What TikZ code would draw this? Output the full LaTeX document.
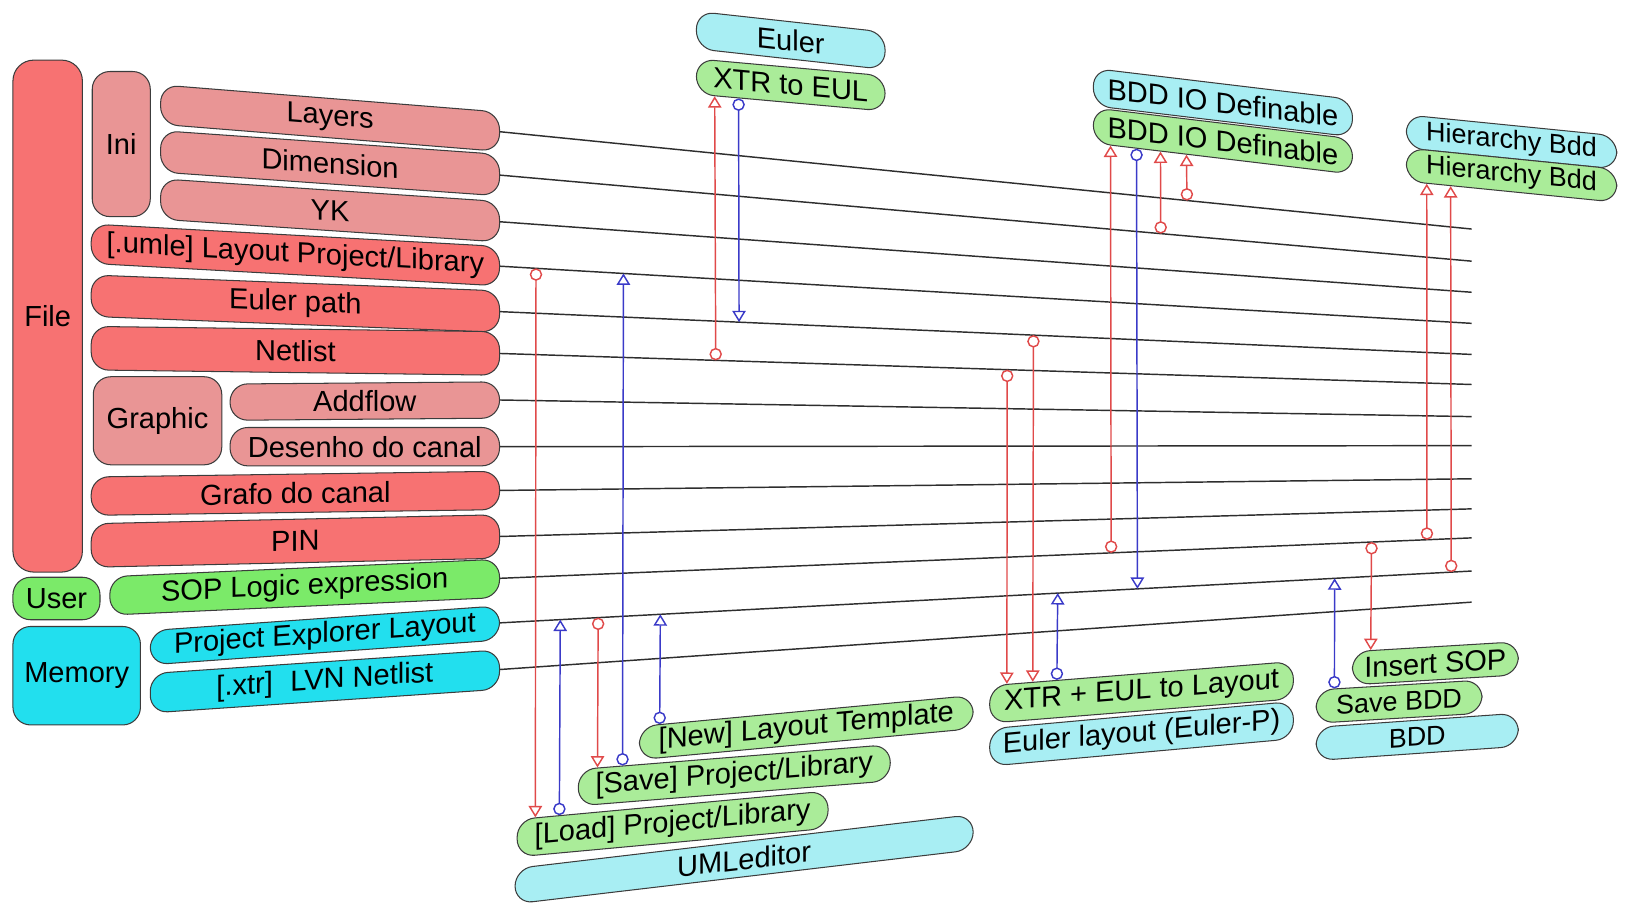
\documentclass[tikz,border=0pt]{standalone}
\usepackage{fontspec}
\setmainfont{Liberation Sans}
\usepackage{tikz}
\usetikzlibrary{arrows.meta,calc}
\definecolor{cred}{HTML}{F77272}
\definecolor{cpink}{HTML}{E99595}
\definecolor{cgreen}{HTML}{7BEA69}
\definecolor{cgreenlt}{HTML}{AAEC99}
\definecolor{ccyan}{HTML}{22DFEE}
\definecolor{ccyanlt}{HTML}{A8EEF3}
\definecolor{cedge}{HTML}{3C3C3C}
\definecolor{cwire}{HTML}{2E2E2E}
\definecolor{cflowr}{HTML}{E04A4A}
\definecolor{cflowb}{HTML}{3A3AC8}
\tikzset{
  blk/.style={draw=cedge,line width=1pt,rounded corners=17pt,inner sep=0pt,transform shape},
  wire/.style={cwire,line width=1.4pt},
  rflow/.style={cflowr,line width=1.4pt,{Circle[open,length=12pt]}-{Triangle[open,length=11pt,width=13pt]}},
  bflow/.style={cflowb,line width=1.4pt,{Circle[open,length=12pt]}-{Triangle[open,length=11pt,width=13pt]}}
}

\begin{document}
\begin{tikzpicture}[x=1pt,y=-1pt,font=\fontsize{28}{30}\selectfont]
\useasboundingbox (0,0) rectangle (1568,876);

% ===== left column =====
\node[blk,fill=cred,minimum width=67pt,minimum height=494pt,rounded corners=20pt] (file) at (46,305) {File};
\node[blk,fill=cpink,minimum width=56pt,minimum height=140pt] (ini) at (117,139) {Ini};
\node[blk,fill=cpink,minimum width=124pt,minimum height=85pt] (graphic) at (152,406) {Graphic};
\node[blk,fill=cgreen,minimum width=84pt,minimum height=41pt] (user) at (54.5,577.5) {User};
\node[blk,fill=ccyan,minimum width=123pt,minimum height=95pt] (memory) at (74,652) {Memory};

\node[blk,fill=cpink,minimum width=327pt,minimum height=38pt,yslant=-0.080] (layers) at (318.5,114) {Layers};
\node[blk,fill=cpink,minimum width=327pt,minimum height=40pt,yslant=-0.070] (dimension) at (318.5,157.5) {Dimension};
\node[blk,fill=cpink,minimum width=327pt,minimum height=39pt,yslant=-0.067] (yk) at (318.5,203) {YK};
\node[blk,fill=cred,minimum width=394pt,minimum height=38pt,yslant=-0.055] (umle) at (285,246) {[.umle] Layout Project/Library};
\node[blk,fill=cred,minimum width=394pt,minimum height=40pt,yslant=-0.039] (eulerp) at (285,293) {Euler path};
\node[blk,fill=cred,minimum width=394pt,minimum height=42pt,yslant=-0.013] (netlist) at (285,338.5) {Netlist};
\node[blk,fill=cpink,minimum width=260pt,minimum height=35pt,yslant=0.008] (addflow) at (352,387) {Addflow};
\node[blk,fill=cpink,minimum width=260pt,minimum height=37pt] (desenho) at (352,431) {Desenho do canal};
\node[blk,fill=cred,minimum width=394pt,minimum height=37pt,yslant=0.014] (grafo) at (285,476) {Grafo do canal};
\node[blk,fill=cred,minimum width=394pt,minimum height=42pt,yslant=0.022] (pin) at (285,522) {PIN};
\node[blk,fill=cgreen,minimum width=376pt,minimum height=37pt,yslant=0.045] (sop) at (294,566.5) {SOP Logic expression};
\node[blk,fill=ccyan,minimum width=337pt,minimum height=33pt,yslant=0.071] (projexp) at (313.5,613) {Project Explorer Layout};
\node[blk,fill=ccyan,minimum width=337pt,minimum height=38pt,yslant=0.068] (lvn) at (313.5,657.5) {[.xtr]\hspace{0.6em}LVN Netlist};

% ===== wires to the far side =====
\foreach \n/\y in {layers/221,dimension/252,yk/282,umle/312,eulerp/342,netlist/371,addflow/402,
  desenho/430,grafo/462,pin/491,sop/519,projexp/551,lvn/581}{
  \coordinate (\n-r) at (1420,\y);
  \draw[wire] (\n.east) -- (\n-r);
}

% ===== top tools =====
\node[blk,fill=ccyanlt,minimum width=182pt,minimum height=36pt,yslant=-0.11] (euler) at (763,39) {Euler};
\node[blk,fill=cgreenlt,minimum width=182pt,minimum height=34pt,yslant=-0.09] (xtreul) at (763,82) {XTR to EUL};
\node[blk,fill=ccyanlt,minimum width=250pt,minimum height=36pt,yslant=-0.12] (bddioc) at (1180,99) {BDD IO Definable};
\node[blk,fill=cgreenlt,minimum width=250pt,minimum height=34pt,yslant=-0.12] (bddiog) at (1180,136) {BDD IO Definable};
\node[blk,fill=ccyanlt,minimum width=203pt,minimum height=32pt,yslant=-0.10,font=\fontsize{26}{28}\selectfont] (hierc) at (1458.5,137) {Hierarchy Bdd};
\node[blk,fill=cgreenlt,minimum width=203pt,minimum height=32pt,yslant=-0.10,font=\fontsize{26}{28}\selectfont] (hierg) at (1458.5,169) {Hierarchy Bdd};

% ===== bottom tools =====
\node[blk,fill=ccyanlt,minimum width=442pt,minimum height=34pt,yslant=0.118] (umled) at (718,829) {UMLeditor};
\node[blk,fill=cgreenlt,minimum width=300pt,minimum height=36pt,yslant=0.092] (loadp) at (649,795) {[Load] Project/Library};
\node[blk,fill=cgreenlt,minimum width=301pt,minimum height=35pt,yslant=0.08] (savep) at (708.5,748) {[Save] Project/Library};
\node[blk,fill=cgreenlt,minimum width=322pt,minimum height=32pt,yslant=0.093] (newt) at (778,702) {[New] Layout Template};
\node[blk,fill=ccyanlt,minimum width=293pt,minimum height=36pt,yslant=0.09] (eullay) at (1101.5,708) {Euler layout (Euler-P)};
\node[blk,fill=cgreenlt,minimum width=293pt,minimum height=36pt,yslant=0.08] (xtrlay) at (1101.5,668) {XTR + EUL to Layout};
\node[blk,fill=ccyanlt,minimum width=195pt,minimum height=32pt,yslant=0.07,font=\fontsize{26}{28}\selectfont] (bdd) at (1367.5,711) {BDD};
\node[blk,fill=cgreenlt,minimum width=160pt,minimum height=32pt,yslant=0.06,font=\fontsize{26}{28}\selectfont] (savebdd) at (1350,677) {Save BDD};
\node[blk,fill=cgreenlt,minimum width=160pt,minimum height=32pt,yslant=0.06] (insop) at (1385,640) {Insert SOP};

% ===== flows =====
\draw[rflow] ($(umle.east)!.037!(umle-r)$) -- ($(loadp.north west)!.06!(loadp.north east)$);
\draw[bflow] ($(savep.north west)!.143!(savep.north east)$) -- ($(umle.east)!.127!(umle-r)$);
\draw[rflow] ($(netlist.east)!.222!(netlist-r)$) -- ($(xtreul.south west)!.099!(xtreul.south east)$);
\draw[bflow] ($(xtreul.south west)!.225!(xtreul.south east)$) -- ($(eulerp.east)!.246!(eulerp-r)$);
\draw[bflow] ($(loadp.north west)!.137!(loadp.north east)$) -- ($(projexp.east)!.062!(projexp-r)$);
\draw[rflow] ($(projexp.east)!.101!(projexp-r)$) -- ($(savep.north west)!.063!(savep.north east)$);
\draw[bflow] ($(newt.north west)!.062!(newt.north east)$) -- ($(projexp.east)!.165!(projexp-r)$);
\draw[rflow] ($(netlist.east)!.522!(netlist-r)$) -- ($(xtrlay.north west)!.058!(xtrlay.north east)$);
\draw[rflow] ($(eulerp.east)!.549!(eulerp-r)$) -- ($(xtrlay.north west)!.143!(xtrlay.north east)$);
\draw[bflow] ($(xtrlay.north west)!.222!(xtrlay.north east)$) -- ($(projexp.east)!.574!(projexp-r)$);
\draw[rflow] ($(sop.east)!.629!(sop-r)$) -- ($(bddiog.south west)!.068!(bddiog.south east)$);
\draw[bflow] ($(bddiog.south west)!.168!(bddiog.south east)$) -- ($(projexp.east)!.656!(projexp-r)$);
\draw[rflow] ($(dimension.east)!.680!(dimension-r)$) -- ($(bddiog.south west)!.26!(bddiog.south east)$);
\draw[rflow] ($(layers.east)!.707!(layers-r)$) -- ($(bddiog.south west)!.36!(bddiog.south east)$);
\draw[rflow] ($(sop.east)!.954!(sop-r)$) -- ($(hierg.south west)!.099!(hierg.south east)$);
\draw[rflow] ($(projexp.east)!.979!(projexp-r)$) -- ($(hierg.south west)!.212!(hierg.south east)$);
\draw[rflow] ($(sop.east)!.897!(sop-r)$) -- ($(insop.north west)!.1125!(insop.north east)$);
\draw[bflow] ($(savebdd.north west)!.1125!(savebdd.north east)$) -- ($(projexp.east)!.859!(projexp-r)$);

\end{tikzpicture}
\end{document}
